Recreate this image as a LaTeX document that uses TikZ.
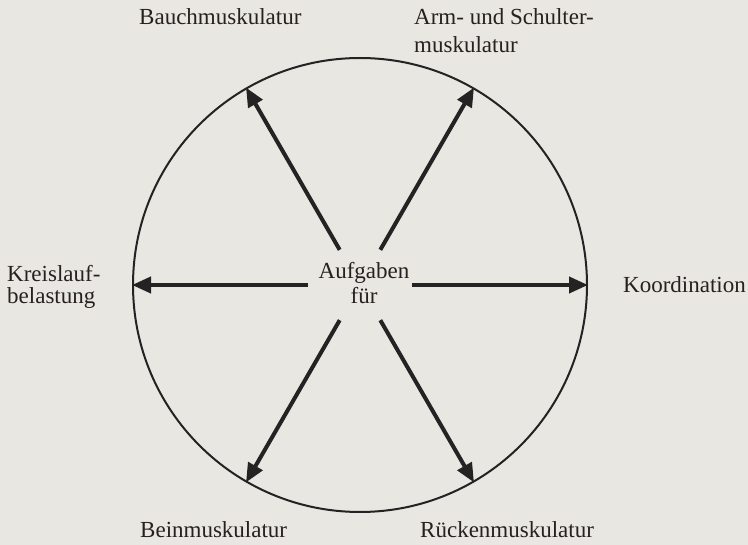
\documentclass[tikz,border=0pt]{standalone}
\usepackage{fontspec}
\setmainfont{Liberation Serif}
\usetikzlibrary{arrows.meta,shapes.geometric}
\definecolor{paper}{RGB}{233,231,226}
\definecolor{ink}{RGB}{38,32,32}
\definecolor{linecol}{RGB}{36,34,34}
\tikzset{
  lbl/.style={anchor=base west, inner sep=0, text=ink, font=\fontsize{23}{25}\selectfont},
  clbl/.style={anchor=base, inner sep=0, text=ink, font=\fontsize{23}{25}\selectfont},
  arr/.style={draw=linecol, line width=4pt, -{Triangle[length=19pt,width=16pt]}},
}
\begin{document}
\begin{tikzpicture}[x=1pt,y=-1pt]
\fill[paper] (0,0) rectangle (748,545);
\useasboundingbox (0,0) rectangle (748,545);
\node[circle, draw=linecol, line width=2pt, minimum size=454pt, inner sep=0] (ring) at (360,285) {};
\node[ellipse, minimum width=104pt, minimum height=76pt, inner sep=0] (hub) at (360,285) {};
\node[clbl] (c1) at (364,279) {Aufgaben};
\node[clbl] (c2) at (364,304) {für};
\node[lbl] (bauch) at (139,25) {Bauchmuskulatur};
\node[lbl] (arm1) at (414,25) {Arm- und Schulter-};
\node[lbl] (arm2) at (414,53) {muskulatur};
\node[lbl] (kreis1) at (7,282) {Kreislauf-};
\node[lbl] (kreis2) at (7,304) {belastung};
\node[lbl] (koord) at (623,293) {Koordination};
\node[lbl] (bein) at (140,538) {Beinmuskulatur};
\node[lbl] (ruecken) at (420,538) {Rückenmuskulatur};
\draw[arr] (hub) -- (ring.120);
\draw[arr] (hub) -- (ring.60);
\draw[arr] (hub) -- (ring.180);
\draw[arr] (hub) -- (ring.0);
\draw[arr] (hub) -- (ring.240);
\draw[arr] (hub) -- (ring.300);
\end{tikzpicture}
\end{document}
